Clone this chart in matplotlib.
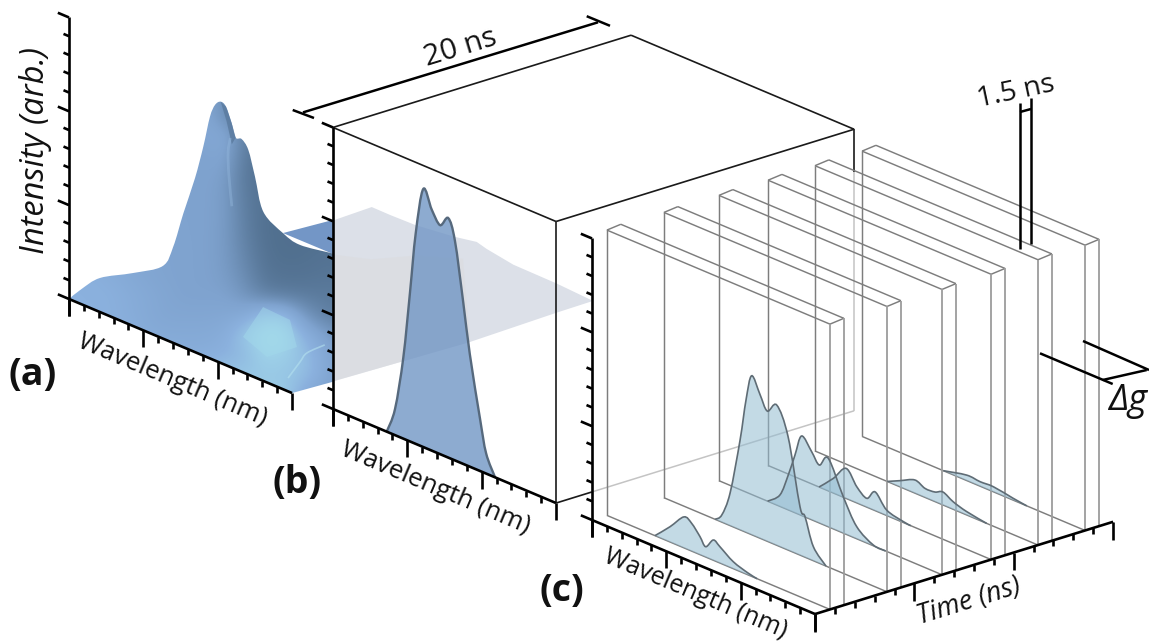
import numpy as np
import matplotlib
matplotlib.use('Agg')
import matplotlib.pyplot as plt
from matplotlib.collections import LineCollection
from matplotlib.colors import LinearSegmentedColormap
from matplotlib.patches import PathPatch
from matplotlib.path import Path
from matplotlib.transforms import Affine2D

plt.rcParams['font.family'] = ['Open Sans', 'DejaVu Sans']

# wavelength position / intensity pairs, read per panel
# (a) surface outline
surf_wl = [0, .85, 2.09, 4.3, 6.3, 7.01, 7.69, 8.47, 9.03, 9.48, 9.82, 10.2, 10.56, 10.94, 11.21,
           11.61, 12.06, 12.51, 13.07, 14.41, 15.53, 17.67, 17.75]
surf_int = [0, .82, 1.82, 2.82, 3.86, 5.13, 7.13, 9.26, 11.13, 12.88, 13.62, 13.92, 13.77, 13.02, 12.34,
            12.4, 11.97, 10.69, 9.01, 8.31, 8.07, 8.34, 8.33]
surf_base_wl = [17.75, 15]
surf_base_int = [1.52, 0]
plate_wl = [14.39, 17.75, 17.75]
plate_int = [8.32, 10.14, 8.33]
rim_wl = [14.73, 15.53, 16, 17.2]
rim_int = [.71, 1.83, 2.47, 3.3]
# bright patch near the front, dark face and light crease of the twin peak
patch_wl = [11.7, 13.05, 14.86, 15.33, 13.32]
patch_int = [1.89, 3.93, 3.85, 2.56, 1.36]
face_wl = [10.2, 10.56, 10.94, 11.21, 10.95, 10.6]
face_int = [13.92, 13.77, 13.02, 12.34, 11.9, 13.0]
crease_wl = [10.85, 10.7, 10.75, 10.95]
crease_int = [12.2, 11.4, 10.2, 8.6]

# sheet carried on through the box of (b)
sheet_wl = [17.75, 20.36, 21.59, 23.27, 25.96, 27.42, 28.09, 29.88, 32.8, 35.24, 32.8, 26.97, 17.75]
sheet_int = [10.11, 11.7, 11.69, 11.72, 11.98, 12.2, 12.05, 11.81, 11.78, 11.67, 10.23, 6.72, 1.54]
warm_wl = [17.75, 20.3, 23.3, 26.5, 26.97, 17.75]
warm_int = [8.3, 8.9, 10.1, 11, 6.72, 1.54]

# shading of the surface, 0 dark to 10 bright
shade_x = [65, 345]
shade_y = [95, 395]
shade = [
    [5, 5, 5, 5, 5, 5, 5, 5, 4, 2, 1, 1, 1, 1, 1],
    [5, 5, 5, 5, 5, 5, 5, 6, 3, 1.5, 1, 1, 1, 1, 1],
    [5, 5, 5, 5, 5, 5, 5, 5.5, 6, 2, 1, 1, 1, 1, 1],
    [5, 5, 5, 5, 5, 5, 5, 5, 5.5, 1.5, .8, 1, 1, 1, 1],
    [5, 5, 5, 5, 5, 5, 5, 5, 4.8, 1.2, .8, 1, 1, 1, 1],
    [5, 5, 5, 5, 5, 5, 5, 5, 4.5, 1.5, .8, .8, 1, 1, 1],
    [5, 5, 5, 5, 5, 5, 5, 5, 4.5, 1.8, .6, .6, 1, 1, 1],
    [5, 5, 5, 5, 5, 5, 5, 5, 4.4, 2, .6, .5, .5, .5, .5],
    [6, 6, 6, 6, 5.5, 5.2, 5, 5, 4.4, 2.4, .8, .5, .6, .8, .8],
    [7, 7, 6.5, 6, 5.5, 5.2, 5, 5, 4.5, 3, 1, .8, .8, 1, 1],
    [7, 7, 7, 6.5, 6, 5.5, 5, 5, 5, 3.8, 2, 1.5, 1.5, 1.5, 1.5],
    [7, 7, 7, 6.5, 6, 5.5, 5.5, 5.5, 5.6, 6, 8.5, 8, 4, 2, 1.5],
    [7, 7, 7, 7, 6.2, 6, 6, 6, 6.4, 8.8, 10, 10, 7, 5, 3.5],
    [7, 7, 7, 7, 7, 6.8, 6.5, 6.5, 7, 7.5, 9.5, 9, 8, 6, 4],
    [8.5, 8.5, 8.5, 8.5, 8.5, 8.5, 8.5, 8.5, 8.5, 8.5, 8.5, 8.5, 8, 6, 4],
    [9, 9, 9, 9, 9, 9, 9, 9, 9, 9, 9, 9, 6, 5, 4],
]

# (b) spectrum
b_wl = [3.61, 4.17, 4.73, 5.18, 5.56, 6.07, 6.64, 7.2, 7.75, 8.2, 8.76, 9.2, 9.89, 10.3, 10.9]
b_int = [0, 1.39, 4.33, 7.96, 11.2, 13.75, 12.84, 12.2, 12.76, 11.7, 8.6, 6.0, 2.77, 1.07, 0]

# (c) gates: time of each plane and its spectrum
gate_t = [.75, 3.62, 6.39, 8.86, 11.22, 13.59]
c_wl = [
    [3.23, 4.24, 5.18, 5.7, 6.26, 6.64, 7.16, 7.6, 8.5, 9.49, 10.1],
    [3.44, 3.89, 4.45, 5.12, 5.52, 5.9, 6.46, 6.95, 7.59, 8.35, 9.15, 9.49, 10.05, 10.9],
    [3.27, 4.1, 4.66, 5.11, 5.56, 6.23, 6.75, 7.35, 8.36, 9.26, 10.38, 11.2],
    [3.43, 4.39, 5.25, 5.97, 6.64, 7.2, 7.98, 9.1, 9.6],
    [4.86, 5.72, 6.72, 7.4, 8.07, 8.61, 9.3, 10.2, 11.55],
    [5.47, 7.04, 7.94, 8.83, 10.15, 11.08],
]
c_int = [
    [0, .81, 1.65, 1.48, .96, .55, 1.08, .87, .37, .1, 0],
    [0, .38, 1.74, 4.78, 7.05, 8.47, 7.66, 6.94, 7.47, 6.04, 2.58, 2.16, .75, 0],
    [0, .61, 1.86, 3.07, 4.24, 3.63, 3.09, 3.65, 1.94, .65, .04, 0],
    [0, .78, 1.6, .86, .47, 1.0, .29, .05, 0],
    [0, .33, .7, .48, .51, .69, .4, .18, 0],
    [0, .29, .24, .27, .1, 0],
]

fig = plt.figure(figsize=(11.49, 6.43), dpi=100)
ax = fig.add_axes([0, 0, 1, 1])

STEP_WL = (14.87, 6.27)
STEP_T = (19.87, -6.15)
STEP_I = 18.77


def panel(ox, oy, t=0):
    # wavelength, intensity -> pixels of the figure
    mat = [[STEP_WL[0], 0, ox + t * STEP_T[0]],
           [STEP_WL[1], -STEP_I, oy + t * STEP_T[1]],
           [0, 0, 1]]
    return Affine2D(np.array(mat)) + ax.transData


def smooth(x, y):
    # Catmull-Rom knots handed to matplotlib as bezier segments
    p = np.column_stack([x, y]).astype(float)
    p = np.vstack([p[0], p, p[-1]])
    verts = [p[1]]
    codes = [Path.MOVETO]
    for i in range(1, len(p) - 2):
        verts += [p[i] + (p[i + 1] - p[i - 1]) / 6, p[i + 1] - (p[i + 2] - p[i]) / 6, p[i + 1]]
        codes += [Path.CURVE4] * 3
    return verts, codes


def closed(x, y, extra_x=(), extra_y=()):
    verts, codes = smooth(x, y)
    for a, b in zip(extra_x, extra_y):
        verts.append((a, b))
        codes.append(Path.LINETO)
    verts.append(verts[0])
    codes.append(Path.CLOSEPOLY)
    return Path(verts, codes)


def axis_lines(tr):
    # intensity axis, wavelength axis and their ticks
    segs = [[(0, 15), (0, -.9)], [(0, 0), (15, 0)]]
    for k in range(16):
        big = k % 5 == 0
        segs.append([(0, k), (-.75 if big else -.37, k)])
        segs.append([(k, 0), (k, -.9 if big else -.32)])
    ax.add_collection(LineCollection(segs, colors='black', linewidths=1.9, transform=tr, zorder=8,
                                     capstyle='butt'))


def poly(x, y, tr, **kw):
    ax.add_patch(PathPatch(Path(np.column_stack([x, y])), ec='none', transform=tr, **kw))


a_tr = panel(69, 299)
b_tr = panel(333, 409)
c_origin = (592, 520)

# grey sheet behind the wall of the box
poly(sheet_wl, sheet_int, a_tr, fc='#dce0e8', zorder=1)
poly(warm_wl, warm_int, a_tr, fc='#dbdcdf', alpha=.6, zorder=1.1)
poly(plate_wl, plate_int, a_tr, fc='#7396c6', zorder=1.2)

# shaded surface of (a), colours cut down to the outline
cmap = LinearSegmentedColormap.from_list('surf', [(0, '#4c6a88'), (.5, '#7fa3cf'), (.7, '#8bb1de'),
                                                  (1, '#a4dcec')])
dx = (shade_x[1] - shade_x[0]) / (len(shade[0]) - 1) / 2
dy = (shade_y[1] - shade_y[0]) / (len(shade) - 1) / 2
im = ax.imshow(np.array(shade), cmap=cmap, vmin=0, vmax=10, aspect='auto', interpolation='bicubic',
               extent=(shade_x[0] - dx, shade_x[1] + dx, shade_y[1] + dy, shade_y[0] - dy), zorder=2)
outline = PathPatch(closed(surf_wl, surf_int, surf_base_wl, surf_base_int), fc='none', ec='none', transform=a_tr)
ax.add_patch(outline)
im.set_clip_path(outline)
poly(patch_wl, patch_int, a_tr, fc='#a2d9ea', alpha=.5, zorder=2.5)
poly(face_wl, face_int, a_tr, fc='#5a7a9e', alpha=.8, zorder=2.5)
verts, codes = smooth(crease_wl, crease_int)
ax.add_patch(PathPatch(Path(verts, codes), fc='none', ec='#9bbfe4', lw=2, alpha=.35, transform=a_tr, zorder=2.6))
verts, codes = smooth(rim_wl, rim_int)
ax.add_patch(PathPatch(Path(verts, codes), fc='none', ec='#b5e2ef', lw=1.2, alpha=.6, transform=a_tr, zorder=3))

# (b)
ax.add_patch(PathPatch(closed(b_wl, b_int), fc='#7196c5', ec='none', alpha=.8, transform=b_tr, zorder=4))
verts, codes = smooth(b_wl, b_int)
ax.add_patch(PathPatch(Path(verts, codes), fc='none', ec='#56697d', lw=1.7, transform=b_tr, zorder=5))

# box of (b), 20 ns deep
corner = lambda u, t, h: (333 + u * STEP_WL[0] + t * STEP_T[0], 409 + u * STEP_WL[1] + t * STEP_T[1] - h * STEP_I)
box_black = [[corner(0, 0, 15), corner(15, 0, 15)], [corner(0, 0, 15), corner(0, 15, 15)],
             [corner(15, 0, 15), corner(15, 15, 15)], [corner(0, 15, 15), corner(15, 15, 15)],
             [corner(15, 0, 15), corner(15, 0, 0)], [corner(15, 0, 0), corner(15, 1.8, 0)],
             [corner(15, 15, 15), corner(15, 15, 12.7)]]
box_grey = [[corner(15, 1.8, 0), corner(15, 15, 0)], [corner(15, 15, 12.7), corner(15, 15, 0)]]
ax.add_collection(LineCollection(box_grey, colors='#c4c4c4', linewidths=1.1, zorder=3))
ax.add_collection(LineCollection(box_black, colors='#1a1a1a', linewidths=1.2, zorder=6))

# gate planes of (c), back to front
H = 15.2
for i in range(len(gate_t) - 1, -1, -1):
    t = gate_t[i]
    g = lambda u, tt, h: (c_origin[0] + u * STEP_WL[0] + tt * STEP_T[0], c_origin[1] + u * STEP_WL[1] + tt * STEP_T[1] - h * STEP_I)
    top = .08
    segs = [[g(0, t, 0), g(0, t, H)], [g(0, t, 0), g(15, t, 0)],
            [g(0, t, H), g(15, t, H)], [g(0, t, H), g(0, t + .7, H + top)],
            [g(0, t + .7, H + top), g(15, t + .7, H + top)], [g(15, t, H), g(15, t + .7, H + top)]]
    ax.add_collection(LineCollection(segs, colors='#7d7d7d', linewidths=1.05, zorder=7))
    segs = [[g(15, t, H), g(15, t, 0)], [g(15, t + .7, H + top), g(15, t + .7, 0)]]
    ax.add_collection(LineCollection(segs, colors='#9c9c9c', linewidths=1.3, zorder=7))

for i in range(len(gate_t) - 1, -1, -1):
    tr = panel(c_origin[0], c_origin[1], gate_t[i])
    ax.add_patch(PathPatch(closed(c_wl[i], c_int[i]), fc='#93bcd1', ec='none', alpha=.55, transform=tr, zorder=7.2))
    verts, codes = smooth(c_wl[i], c_int[i])
    ax.add_patch(PathPatch(Path(verts, codes), fc='none', ec='#5f6c75', lw=1.2, transform=tr, zorder=7.3))

axis_lines(a_tr)
axis_lines(b_tr)
axis_lines(panel(*c_origin))

# time axis of (c)
t_mat = Affine2D(np.array([[STEP_T[0], 0, c_origin[0] + 15 * STEP_WL[0]],
                           [STEP_T[1], -STEP_I, c_origin[1] + 15 * STEP_WL[1]],
                           [0, 0, 1]])) + ax.transData
segs = [[(0, 0), (15, 0)]]
for k in range(16):
    segs.append([(k, 0), (k, -.95 if k % 5 == 0 else -.32)])
ax.add_collection(LineCollection(segs, colors='black', linewidths=1.9, transform=t_mat, zorder=8, capstyle='butt'))

# dimension marks
marks = [[(303, 112.4), (598, 22.3)], [(292.7, 110), (314, 118)], [(586.7, 16.2), (610, 25.8)],
         [(1020, 102.7), (1020, 249)], [(1031, 98), (1031, 244)], [(1020, 112), (1031, 109)],
         [(1040, 353.3), (1112.7, 384)], [(1083, 341), (1149, 370)], [(1102.7, 380), (1146.7, 370)]]
ax.add_collection(LineCollection(marks, colors='black', linewidths=1.8, zorder=9))

label = dict(ha='center', va='center', rotation_mode='anchor', color='#111111', zorder=10)
ax.text(36, 151, 'Intensity (arb.)', rotation=90, style='italic', fontsize=23.5, **label)
for x, y, size in [(172, 380, 18.5), (435, 488, 18.5), (695, 594, 18)]:
    ax.text(x, y, 'Wavelength (nm)', rotation=-22.9, fontsize=size, **label)
ax.text(969, 602, 'Time (ns)', rotation=17.2, style='italic', fontsize=19.5, **label)
ax.text(460, 48, '20 ns', rotation=17, fontsize=21.5, **label)
ax.text(1016, 92, '1.5 ns', rotation=12, fontsize=20.5, **label)
ax.text(1128, 401, 'Δg', style='italic', fontsize=26, **label)
for txt, x, y in [('(a)', 33, 375), ('(b)', 297, 483), ('(c)', 562, 591)]:
    ax.text(x, y, txt, fontsize=27, fontweight='bold', ha='center', va='center', color='#111111', zorder=10)

ax.set_xlim(0, 1149)
ax.set_ylim(643, 0)
ax.axis('off')
fig.savefig('out.png', dpi=100)
